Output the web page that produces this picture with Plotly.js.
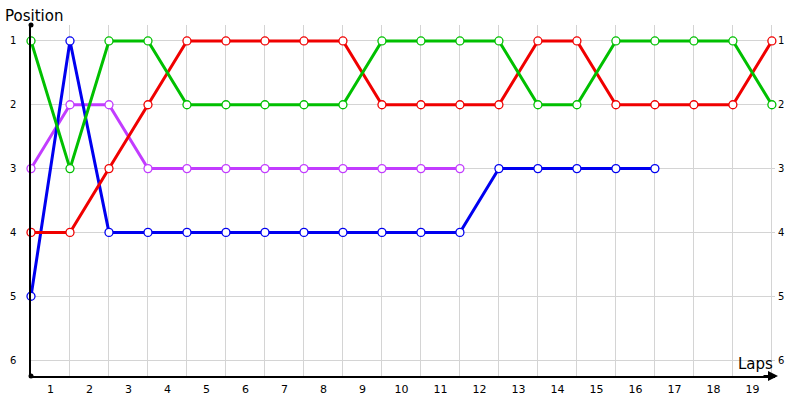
<!DOCTYPE html>
<html>
<head>
<meta charset="utf-8">
<script src="https://cdn.plot.ly/plotly-3.0.1.min.js"></script>
<style>
  html, body { margin: 0; padding: 0; background: #fff; }
  #chart { width: 800px; height: 400px; }
</style>
</head>
<body>
<div id="chart"></div>
<script>
// Lap chart: position of each runner at the end of every lap (0 = start grid).
const laps = [0, 1, 2, 3, 4, 5, 6, 7, 8, 9, 10, 11, 12, 13, 14, 15, 16, 17, 18, 19];
const lapLabels = ['1', '2', '3', '4', '5', '6', '7', '8', '9', '10',
  '11', '12', '13', '14', '15', '16', '17', '18', '19'];
const positions = [1, 2, 3, 4, 5, 6];

const greenPos  = [1, 3, 1, 1, 2, 2, 2, 2, 2, 1, 1, 1, 1, 2, 2, 1, 1, 1, 1, 2];
const redPos    = [4, 4, 3, 2, 1, 1, 1, 1, 1, 2, 2, 2, 2, 1, 1, 2, 2, 2, 2, 1];
const bluePos   = [5, 1, 4, 4, 4, 4, 4, 4, 4, 4, 4, 4, 3, 3, 3, 3, 3];
const purplePos = [3, 2, 2, 3, 3, 3, 3, 3, 3, 3, 3, 3];

const seriesList = [
  { name: 'Purple', y: purplePos, color: '#c23cff' },
  { name: 'Blue', y: bluePos, color: '#0000f0' },
  { name: 'Red', y: redPos, color: '#f00000' },
  { name: 'Green', y: greenPos, color: '#00c000' }
];

const traces = seriesList.map(function (s) {
  return {
    x: laps.slice(0, s.y.length),
    y: s.y,
    name: s.name,
    type: 'scatter',
    mode: 'lines+markers',
    cliponaxis: false,
    line: { color: s.color, width: 3 },
    marker: { size: 8, color: '#ffffff', line: { color: s.color, width: 1.3 } },
    showlegend: false,
    hoverinfo: 'x+y+name'
  };
});

// invisible trace so the right-hand position axis gets drawn
traces.push({
  x: [0], y: [1], yaxis: 'y2', mode: 'markers',
  marker: { opacity: 0 }, showlegend: false, hoverinfo: 'skip'
});

const tickFont = { family: 'DejaVu Sans, Verdana, sans-serif', size: 10, color: '#000' };
const gridColor = '#d4d4d4';

const layout = {
  width: 800,
  height: 400,
  paper_bgcolor: '#ffffff',
  plot_bgcolor: '#ffffff',
  margin: { l: 31, r: 25, t: 25, b: 24, pad: 0 },
  xaxis: {
    range: [0, 19.08],
    tickvals: lapLabels.map(function (_, i) { return i + 0.5; }),
    ticktext: lapLabels,
    ticks: '',
    showgrid: false,
    zeroline: false,
    showline: true,
    linecolor: '#000',
    linewidth: 2,
    tickfont: { family: 'DejaVu Sans, Verdana, sans-serif', size: 11, color: '#000' },
    ticklabelstandoff: 2,
    minor: { tickvals: laps, showgrid: true, gridcolor: gridColor, gridwidth: 1, ticks: '' }
  },
  yaxis: {
    range: [6.25, 0.75],
    tickvals: positions,
    ticks: '',
    showgrid: true,
    gridcolor: gridColor,
    gridwidth: 1,
    zeroline: false,
    showline: true,
    linecolor: '#000',
    linewidth: 1.5,
    tickfont: tickFont,
    ticklabelstandoff: 11
  },
  yaxis2: {
    overlaying: 'y',
    side: 'right',
    range: [6.25, 0.75],
    tickvals: positions,
    ticks: '',
    showgrid: false,
    zeroline: false,
    showline: false,
    tickfont: tickFont,
    ticklabelstandoff: 2
  },
  annotations: [
    {
      text: 'Position', xref: 'paper', yref: 'paper', x: 0, y: 1,
      xanchor: 'left', yanchor: 'bottom', xshift: -28, yshift: -2, showarrow: false,
      font: { family: 'DejaVu Sans, Verdana, sans-serif', size: 15, color: '#000' }
    },
    {
      text: 'Laps', xref: 'paper', yref: 'paper', x: 1, y: 0,
      xanchor: 'right', yanchor: 'bottom', xshift: 0, yshift: 1, showarrow: false,
      font: { family: 'DejaVu Sans, Verdana, sans-serif', size: 15, color: '#000' }
    },
    {
      text: '', xref: 'paper', yref: 'paper', x: 1, y: 0, ax: -16, ay: 0,
      showarrow: true, arrowhead: 2, arrowsize: 1, arrowwidth: 2, arrowcolor: '#000',
      xshift: 3
    }
  ],
  shapes: [
    {
      type: 'circle', xref: 'paper', yref: 'paper', xsizemode: 'pixel', ysizemode: 'pixel',
      xanchor: 0, yanchor: 1, x0: -2.5, x1: 2.5, y0: -2.5, y1: 2.5,
      fillcolor: '#000', line: { width: 0 }
    },
    {
      type: 'circle', xref: 'paper', yref: 'paper', xsizemode: 'pixel', ysizemode: 'pixel',
      xanchor: 0, yanchor: 0, x0: -2.5, x1: 2.5, y0: -2.5, y1: 2.5,
      fillcolor: '#000', line: { width: 0 }
    }
  ],
  hovermode: 'closest'
};

Plotly.newPlot('chart', traces, layout, { displayModeBar: false, staticPlot: false });
</script>
</body>
</html>
